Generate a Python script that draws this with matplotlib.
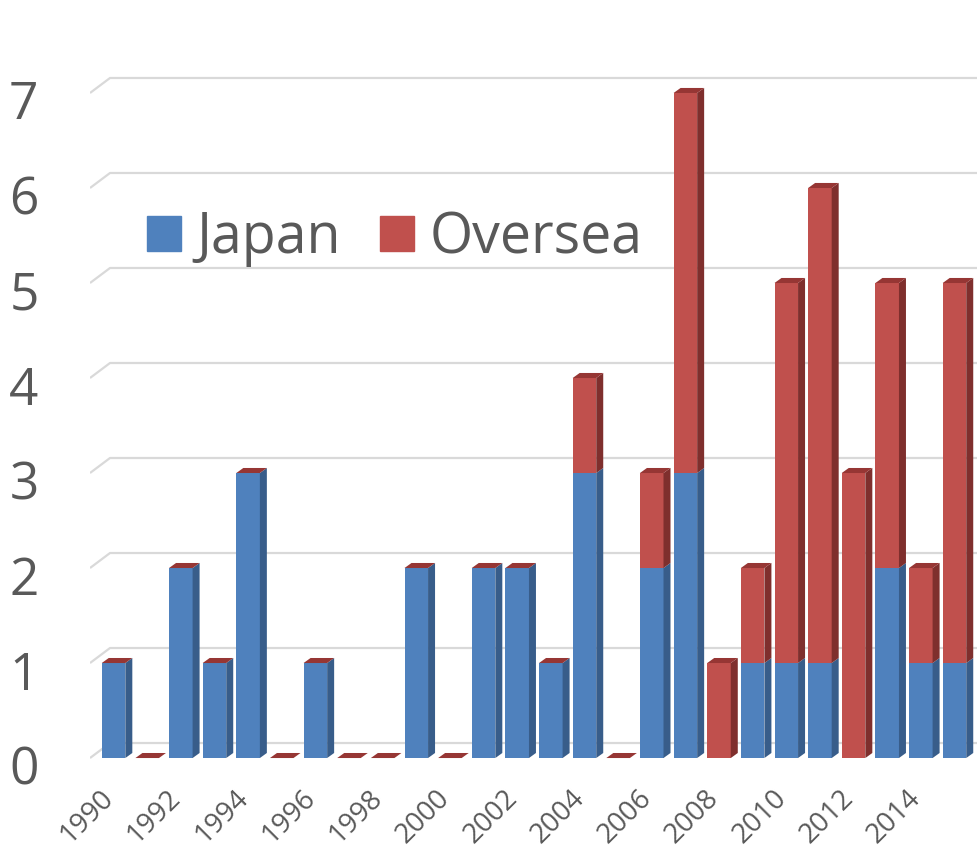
"""Stacked 3D-style bar chart: Japan vs Oversea by year"""
import matplotlib
matplotlib.use('Agg')
import matplotlib.pyplot as plt
import matplotlib.transforms as mtransforms
from matplotlib.patches import Polygon, Patch
import numpy as np

plt.rcParams['font.family'] = ['Open Sans', 'DejaVu Sans']

# data
years = list(range(1990, 2016))
japan = [1, 0, 2, 1, 3, 0, 1, 0, 0, 2, 0, 2, 2, 1, 3, 0, 2, 3, 0, 1, 1, 1, 0, 2, 1, 1]
oversea = [0, 0, 0, 0, 0, 0, 0, 0, 0, 0, 0, 0, 0, 0, 1, 0, 1, 4, 1, 1, 4, 5, 3, 3, 1, 4]
y_ticks = [0, 1, 2, 3, 4, 5, 6, 7]

# colours
blue_front, blue_side = '#4f81bd', '#385d8a'
red_front, red_side, red_top = '#c0504d', '#7f2f2d', '#963634'
grid_col = '#d9d9d9'
text_col = '#595959'

W, H = 977, 849
fig = plt.figure(figsize=(W / 100, H / 100), dpi=100)
ax = fig.add_axes([90 / W, (H - 770) / H, 887 / W, 700 / H])

x_min, x_max = -0.70, 25.67
ax.set_xlim(x_min, x_max)
ax.set_ylim(-0.126, 7.242)
for s in ax.spines.values():
    s.set_visible(False)

# back wall gridlines with the perspective kink at the left
gdx, gdy = 0.595, 0.158
for v in y_ticks:
    ax.plot([x_min, x_min + gdx, x_max], [v, v + gdy, v + gdy],
            color=grid_col, lw=1.6, zorder=1, solid_capstyle='butt')

# bars
width = 0.70
ddx, ddy = 0.208, 0.053
x = np.arange(len(years))
ax.bar(x, japan, width, color=blue_front, zorder=3)
ax.bar(x, oversea, width, bottom=japan, color=red_front, zorder=3)

for i in range(len(years)):
    xr = x[i] + width / 2
    xl = x[i] - width / 2
    segs = [(0, japan[i], blue_side), (japan[i], japan[i] + oversea[i], red_side)]
    for y0, y1, col in segs:
        if y1 > y0:
            ax.add_patch(Polygon([(xr, y0), (xr + ddx, y0 + ddy), (xr + ddx, y1 + ddy), (xr, y1)],
                                 closed=True, color=col, lw=0, zorder=3))
    top = japan[i] + oversea[i]
    ax.add_patch(Polygon([(xl, top), (xl + ddx, top + ddy), (xr + ddx, top + ddy), (xr, top)],
                         closed=True, color=red_top, lw=0, zorder=3))

# x ticks: every second year
ax.set_xticks(x[::2])
ax.set_xticklabels([str(y) for y in years[::2]], rotation=45, ha='right', va='top',
                   rotation_mode='anchor', fontsize=20, color=text_col)
ax.tick_params(axis='x', length=0, pad=10)
xshift = mtransforms.ScaledTranslation(-14 / 100, 0, fig.dpi_scale_trans)
for lab in ax.get_xticklabels():
    lab.set_transform(lab.get_transform() + xshift)

# y ticks
ax.set_yticks(y_ticks)
ax.set_yticklabels([str(v) for v in y_ticks], fontsize=37, color=text_col)
ax.tick_params(axis='y', length=0, pad=37)
shift = mtransforms.ScaledTranslation(0, -7 / 100, fig.dpi_scale_trans)
for lab in ax.get_yticklabels():
    lab.set_transform(lab.get_transform() + shift)

# legend
handles = [Patch(color=blue_front, label='Japan'), Patch(color=red_front, label='Oversea')]
ax.legend(handles=handles, loc='upper left', bbox_to_anchor=(147 / W, (H - 210) / H),
          bbox_transform=fig.transFigure, ncol=2, frameon=False, fontsize=40,
          handlelength=0.61, handleheight=0.61, handletextpad=0.28, columnspacing=0.7,
          borderpad=0, borderaxespad=0, labelcolor=text_col)

plt.savefig('out.png', dpi=100)
plt.close()
